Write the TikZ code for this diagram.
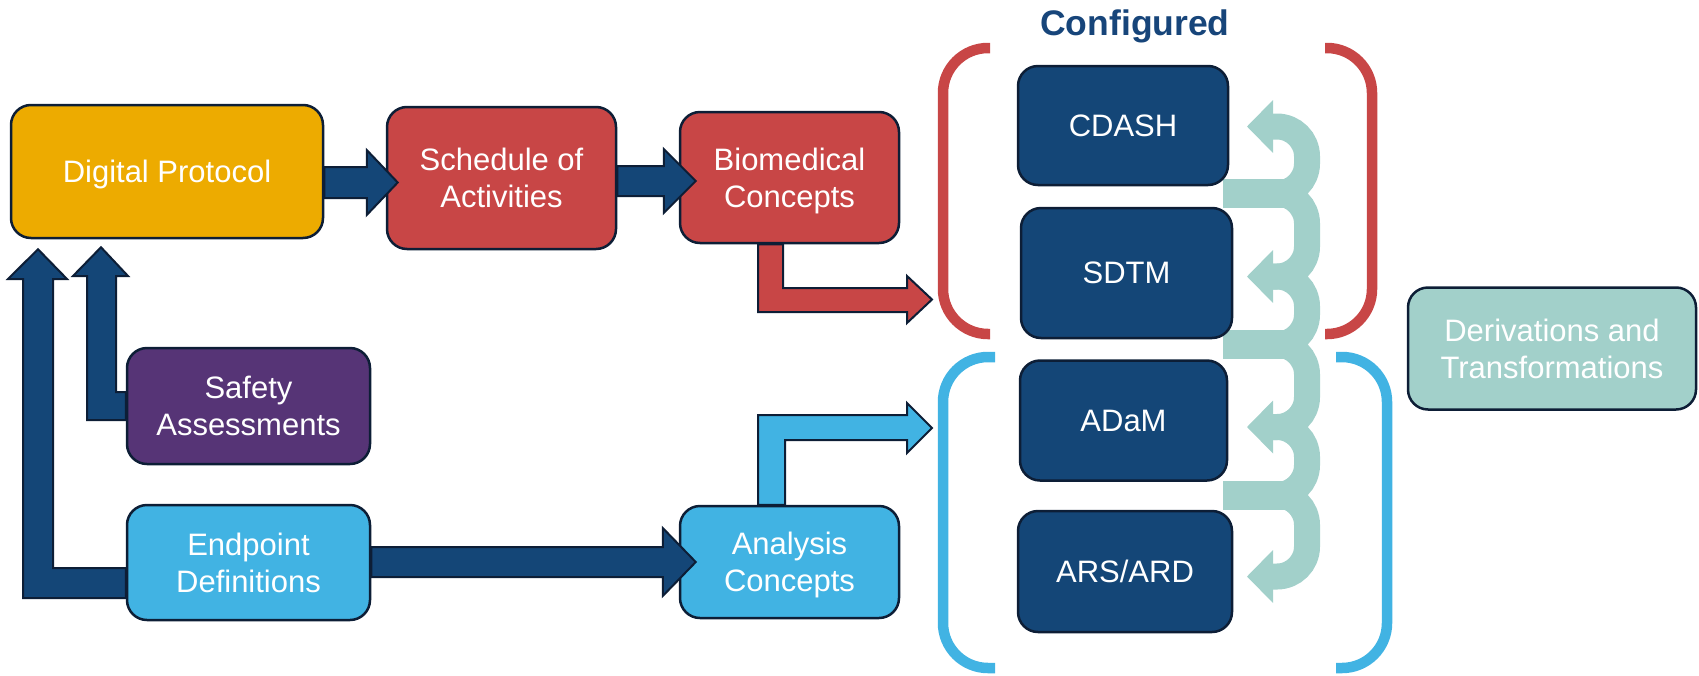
\documentclass[tikz,border=0pt]{standalone}
\usepackage{fontspec}
\setmainfont{Liberation Sans}
\usetikzlibrary{calc}
\definecolor{amber}{HTML}{EDAB00}
\definecolor{boxred}{HTML}{C84646}
\definecolor{purp}{HTML}{563476}
\definecolor{lblue}{HTML}{41B3E3}
\definecolor{navy}{HTML}{144677}
\definecolor{outl}{HTML}{0D1E36}
\definecolor{tealc}{HTML}{A2D0CA}
\definecolor{titlec}{HTML}{17457A}
% horizontal block arrow: start coord, tip coord, shaft half, head half, head length, fill
\newcommand\hbarrow[6]{%
  \draw[barrow, fill=#6] ($(#1)+(0,-#3)$) -- ($(#2)+(-#5,-#3)$) -- ($(#2)+(-#5,-#4)$) -- (#2)
    -- ($(#2)+(-#5,#4)$) -- ($(#2)+(-#5,#3)$) -- ($(#1)+(0,#3)$) -- cycle;}
\begin{document}
\begin{tikzpicture}[x=1pt,y=-1pt,
  box/.style={draw=outl, line width=2.5pt, rounded corners=20pt, text=white, align=center,
    inner sep=0pt, text depth=0pt, font=\fontsize{31}{37}\selectfont},
  barrow/.style={draw=outl, line width=2pt, line join=miter},
  band/.style={draw=tealc, line width=26pt, rounded corners=30pt},
  tailband/.style={draw=tealc, line width=29pt},
  bracket/.style={line width=10.5pt, rounded corners=45pt}]
\useasboundingbox (0,0) rectangle (1699,675);

% teal curved arrows (behind boxes)
\draw[band] (1270,126.5) -- (1307,126.5) -- (1307,193.5) -- (1225,193.5);
\draw[band] (1225,193.5) -- (1307,193.5) -- (1307,276.5) -- (1270,276.5);
\draw[band] (1270,276.5) -- (1307,276.5) -- (1307,344.5) -- (1225,344.5);
\draw[band] (1225,344.5) -- (1307,344.5) -- (1307,427) -- (1270,427);
\draw[band] (1270,427) -- (1307,427) -- (1307,495) -- (1225,495);
\draw[band] (1225,495) -- (1307,495) -- (1307,576.5) -- (1270,576.5);
\foreach \t in {193.5,344.5,495}
  \draw[tailband] (1223,\t) -- (1285,\t);
\foreach \h in {126.5,276.5,427,576.5}
  \fill[tealc] (1273,\h-26.5) -- (1247,\h) -- (1273,\h+26.5) -- cycle;

% brackets
\draw[bracket, boxred] (990,48) -- (943,48) -- (943,334) -- (990,334);
\draw[bracket, boxred] (1325,48) -- (1372,48) -- (1372,334) -- (1325,334);
\draw[bracket, lblue] (995,357) -- (943,357) -- (943,668) -- (995,668);
\draw[bracket, lblue] (1336,357) -- (1387,357) -- (1387,668) -- (1336,668);

% title
\node[font=\bfseries\fontsize{35.5}{40}\selectfont, text=titlec, anchor=base, inner sep=0pt] (cfg) at (1135,35) {Configured};

% boxes
\node[box, fill=amber, minimum width=312pt, minimum height=133pt] (dp) at (167,171.5) {Digital Protocol};
\node[box, fill=boxred, minimum width=229pt, minimum height=142pt] (soa) at (501.5,178) {Schedule of\\Activities};
\node[box, fill=boxred, minimum width=219pt, minimum height=131pt] (bc) at (789.5,177.5) {Biomedical\\Concepts};
\node[box, fill=purp, minimum width=243pt, minimum height=116pt] (sa) at (248.5,406) {Safety\\Assessments};
\node[box, fill=lblue, minimum width=243pt, minimum height=115pt] (ep) at (248.5,562.5) {Endpoint\\Definitions};
\node[box, fill=lblue, minimum width=219pt, minimum height=112pt] (ac) at (789.5,562) {Analysis\\Concepts};
\node[box, fill=navy, minimum width=210pt, minimum height=119pt] (cdash) at (1123,125.5) {CDASH};
\node[box, fill=navy, minimum width=211pt, minimum height=130pt] (sdtm) at (1126.5,273) {SDTM};
\node[box, fill=navy, minimum width=207pt, minimum height=120pt] (adam) at (1123.5,420.5) {ADaM};
\node[box, fill=navy, minimum width=214pt, minimum height=121pt] (ars) at (1125,571.5) {ARS/ARD};
\node[box, fill=tealc, minimum width=288pt, minimum height=122pt] (dt) at (1552,348.5) {Derivations and\\Transformations};

% straight block arrows
\coordinate (s1) at (dp.east |- 0,182.5);
\coordinate (t1) at ($(soa.west |- 0,182.5)+(12,0)$);
\hbarrow{s1}{t1}{15.5}{32.5}{31}{navy}
\coordinate (s2) at (soa.east |- 0,181);
\coordinate (t2) at ($(bc.west |- 0,181)+(17,0)$);
\hbarrow{s2}{t2}{15}{32}{32}{navy}
\coordinate (s5) at (ep.east |- 0,562);
\coordinate (t5) at ($(ac.west |- 0,562)+(17,0)$);
\hbarrow{s5}{t5}{15}{34}{33}{navy}

% L-shaped block arrows to the brackets
\coordinate (rtip) at (932,299.5);
\draw[barrow, fill=boxred] (bc.south -| 758,0) -- (758,312) -- (907,312) -- (907,323) -- (rtip)
  -- (907,276) -- (907,288) -- (783,288) -- (bc.south -| 783,0) -- cycle;
\coordinate (btip) at (932,428);
\draw[barrow, fill=lblue] (ac.north -| 758,0) -- (758,415) -- (907,415) -- (907,403) -- (btip)
  -- (907,453) -- (907,440) -- (785,440) -- (ac.north -| 785,0) -- cycle;

% L-shaped block arrows up to Digital Protocol
\coordinate (dtip1) at ($(dp.south -| 38,0)+(0,10)$);
\draw[barrow, fill=navy] (ep.west |- 0,568) -- (53,568) -- (53,279) -- (67,279) -- (dtip1)
  -- (8,279) -- (23,279) -- (23,598) -- (ep.west |- 0,598) -- cycle;
\coordinate (dtip2) at ($(dp.south -| 101,0)+(0,8)$);
\draw[barrow, fill=navy] (sa.west |- 0,392) -- (116,392) -- (116,276) -- (128,276) -- (dtip2)
  -- (73,276) -- (87,276) -- (87,420) -- (sa.west |- 0,420) -- cycle;
\end{tikzpicture}
\end{document}
